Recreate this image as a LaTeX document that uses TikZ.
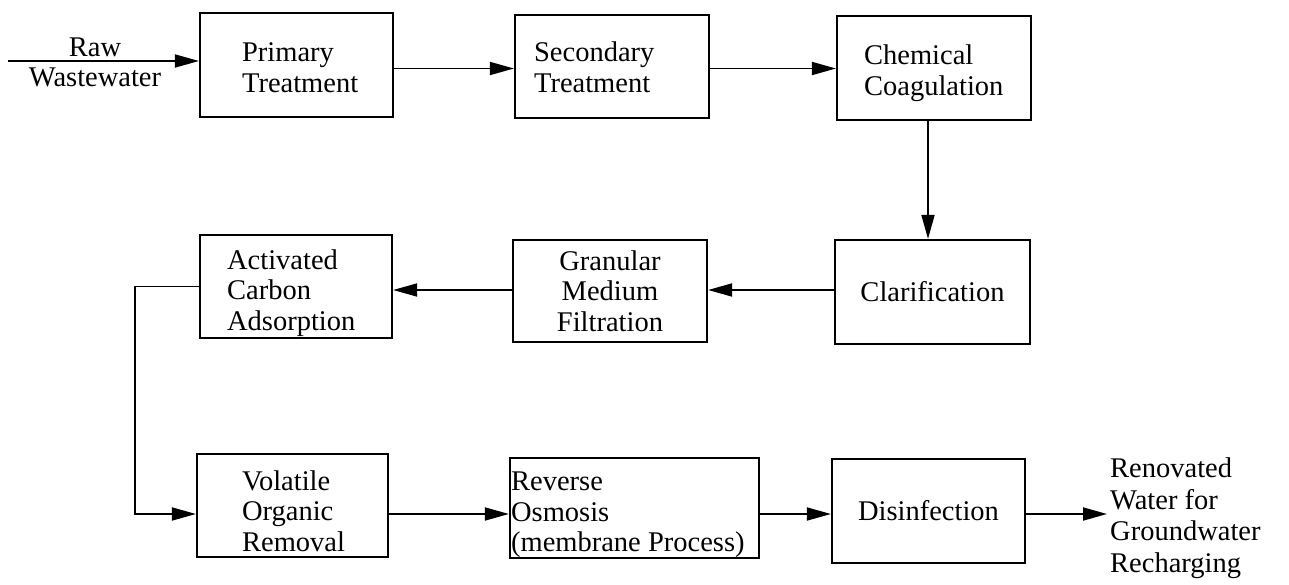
\documentclass[tikz,border=0pt]{standalone}
\usepackage{fontspec}
\setmainfont{Liberation Serif}
\usetikzlibrary{arrows.meta,calc}
\begin{document}
\begin{tikzpicture}[x=1pt,y=-1pt,
  txt/.style={font=\fontsize{28.5}{30.5}\selectfont, inner sep=0pt},
  stage/.style={draw, line width=2.2pt, inner sep=0pt, txt},
  ltext/.style={txt, align=left, anchor=west},
  flow/.style={line width=1.8pt, -{Triangle[length=24pt,width=13pt]}}]

\fill[white] (0,0) rectangle (1289,585);
\useasboundingbox (0,0) rectangle (1289,585);

% levels of the connector runs
\coordinate (r1) at (0,68.5);
\coordinate (r2) at (0,290);
\coordinate (r3) at (0,514);
\coordinate (cx) at (928,0);
\coordinate (bx) at (135,0);
\coordinate (rawin) at (8,61);

% first row
\node[txt, align=center] (raw) at (95,62.5) {Raw\\Wastewater};
\node[stage, minimum width=193pt, minimum height=104pt] (prim) at (296.5,65) {};
\node[ltext] (primt) at ($(prim.west)+(43,2.5)$) {Primary\\Treatment};
\node[stage, minimum width=194pt, minimum height=103pt] (sec) at (612,66.5) {};
\node[ltext] (sect) at ($(sec.west)+(20,1)$) {Secondary\\Treatment};
\node[stage, minimum width=194pt, minimum height=104pt] (chem) at (934,68) {};
\node[ltext] (chemt) at ($(chem.west)+(28,5)$) {Chemical\\Coagulation};

% second row
\node[stage, minimum width=195pt, minimum height=104pt] (clar) at (932.5,292) {Clarification};
\node[stage, align=center, minimum width=194pt, minimum height=102pt] (gran) at (610,291) {Granular\\Medium\\Filtration};
\node[stage, minimum width=192pt, minimum height=103pt] (act) at (296,286.5) {};
\node[ltext] (actt) at ($(act.west)+(28,6.5)$) {Activated\\Carbon\\Adsorption};

% third row
\node[stage, minimum width=191pt, minimum height=103pt] (vol) at (292.5,505.5) {};
\node[ltext] (volt) at ($(vol.west)+(46,5.5)$) {Volatile\\Organic\\Removal};
\node[stage, minimum width=249pt, minimum height=100pt] (rev) at (634.5,508) {};
\node[ltext] (revt) at ($(rev.west)+(2,7)$) {Reverse\\Osmosis\\(membrane Process)};
\node[stage, minimum width=193pt, minimum height=104pt] (dis) at (928.5,511) {Disinfection};
\node[ltext, inner xsep=3pt, font=\fontsize{28.5}{31.5}\selectfont] (out) at (1107,518)
  {Renovated\\Water for\\Groundwater\\Recharging};

% connectors
\draw[flow] (rawin) -- (rawin -| prim.west);
\draw[flow] (prim.east |- r1) -- (sec.west |- r1);
\draw[flow] (sec.east |- r1) -- (chem.west |- r1);
\draw[flow] (chem.south -| cx) -- (clar.north -| cx);
\draw[flow] (clar.west |- r2) -- (gran.east |- r2);
\draw[flow] (gran.west |- r2) -- (act.east |- r2);
\draw[flow] (act.west) -- (act.west -| bx) -- (bx |- r3) -- (vol.west |- r3);
\draw[flow] (vol.east |- r3) -- (rev.west |- r3);
\draw[flow] (rev.east |- r3) -- (dis.west |- r3);
\draw[flow] (dis.east |- r3) -- (out.west |- r3);
\end{tikzpicture}
\end{document}
